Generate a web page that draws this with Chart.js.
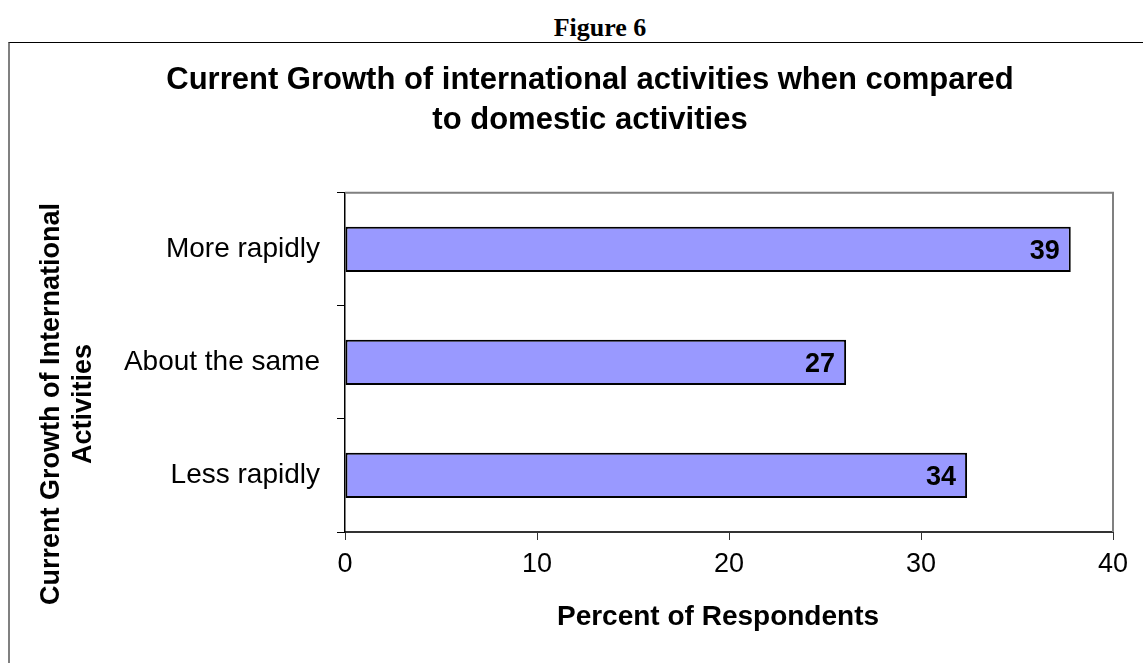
<!DOCTYPE html>
<html>
<head>
<meta charset="utf-8">
<script src="https://cdn.jsdelivr.net/npm/chart.js@4"></script>
<style>
    body { margin: 0; background: #fff; }
    #wrap { position: relative; width: 1143px; height: 663px; overflow: hidden; }
    #figLabel {
        position: absolute; left: 0; width: 1200px; top: 13px; text-align: center;
        font: bold 26px/29px "Liberation Serif", "Times New Roman", serif; color: #000;
    }
    #frame {
        position: absolute; left: 8px; top: 42px; width: 1200px; height: 700px;
        border-top: 1px solid #000; border-left: 2px solid #808080;
        pointer-events: none;
    }
    #chart { position: absolute; left: 0; top: 0; }
</style>
</head>
<body>
<div id="wrap">
    <div id="figLabel">Figure 6</div>
    <div id="frame"></div>
    <canvas id="chart" width="1143" height="663"></canvas>
</div>
<script>
// chart data
const categories = ['More rapidly', 'About the same', 'Less rapidly'];
const barValues = [37.8, 26.1, 32.4];      // bar lengths as drawn
const labelValues = [39, 27, 34];          // numbers printed on the bars
const xTicks = [0, 10, 20, 30, 40];
const titleLines = ['Current Growth of international activities when compared', 'to domestic activities'];
const xTitle = 'Percent of Respondents';
const yTitleLines = ['Current Growth of International', 'Activities'];

Chart.defaults.font.family = "'Liberation Sans', Arial, sans-serif";
Chart.defaults.color = '#000';

// gray top/right border of the plot area
const plotFrame = {
    id: 'plotFrame',
    beforeDatasetsDraw(chart) {
        const { ctx, chartArea: a } = chart;
        ctx.save();
        ctx.strokeStyle = '#808080';
        ctx.lineWidth = 2;
        ctx.beginPath();
        ctx.moveTo(a.left, a.top);
        ctx.lineTo(a.right, a.top);
        ctx.lineTo(a.right, a.bottom);
        ctx.stroke();
        ctx.restore();
    }
};

// value labels inside the bar ends
const barLabels = {
    id: 'barLabels',
    afterDatasetsDraw(chart) {
        const { ctx } = chart;
        const meta = chart.getDatasetMeta(0);
        ctx.save();
        ctx.font = "bold 27px 'Liberation Sans', Arial, sans-serif";
        ctx.fillStyle = '#000';
        ctx.textAlign = 'right';
        ctx.textBaseline = 'middle';
        meta.data.forEach((bar, i) => {
            ctx.fillText(String(labelValues[i]), bar.x - 11, bar.y + 2);
        });
        ctx.restore();
    }
};

// axis titles, placed like the original
const axisTitles = {
    id: 'axisTitles',
    afterDraw(chart) {
        const { ctx } = chart;
        ctx.save();
        ctx.fillStyle = '#000';
        ctx.textAlign = 'center';
        ctx.textBaseline = 'middle';
        ctx.font = "bold 28px 'Liberation Sans', Arial, sans-serif";
        ctx.fillText(xTitle, 718, 617);
        ctx.font = "bold 27px 'Liberation Sans', Arial, sans-serif";
        ctx.translate(52, 404);
        ctx.rotate(-Math.PI / 2);
        yTitleLines.forEach((line, i) => ctx.fillText(line, 0, i * 32));
        ctx.restore();
    }
};

new Chart(document.getElementById('chart').getContext('2d'), {
    type: 'bar',
    data: {
        labels: categories,
        datasets: [{
            data: barValues,
            backgroundColor: '#9999FF',
            borderColor: '#000',
            borderWidth: 2,
            borderSkipped: false,
            categoryPercentage: 1,
            barPercentage: 0.4
        }]
    },
    options: {
        indexAxis: 'y',
        responsive: false,
        devicePixelRatio: 1,
        animation: false,
        layout: { padding: { left: 67, right: 30, top: 0, bottom: 0 } },
        plugins: {
            legend: { display: false },
            tooltip: { enabled: false },
            title: {
                display: true,
                text: titleLines,
                color: '#000',
                font: { size: 31, weight: 'bold', lineHeight: 1.32 },
                padding: { top: 59.5, bottom: 51.5 }
            }
        },
        scales: {
            x: {
                min: 0,
                max: 40,
                afterBuildTicks(scale) { scale.ticks = xTicks.map(v => ({ value: v })); },
                afterFit(scale) { scale.height = 131; },
                ticks: { font: { size: 27 }, padding: 8, color: '#000' },
                grid: { drawOnChartArea: false, tickLength: 8, color: '#333' },
                border: { color: '#333', width: 2 }
            },
            y: {
                afterFit(scale) { scale.width = 278; },
                ticks: { font: { size: 28 }, padding: 17, color: '#000' },
                grid: { offset: true, drawOnChartArea: false, tickLength: 8, color: '#000' },
                border: { color: '#000', width: 1.5 }
            }
        }
    },
    plugins: [plotFrame, barLabels, axisTitles]
});
</script>
</body>
</html>
